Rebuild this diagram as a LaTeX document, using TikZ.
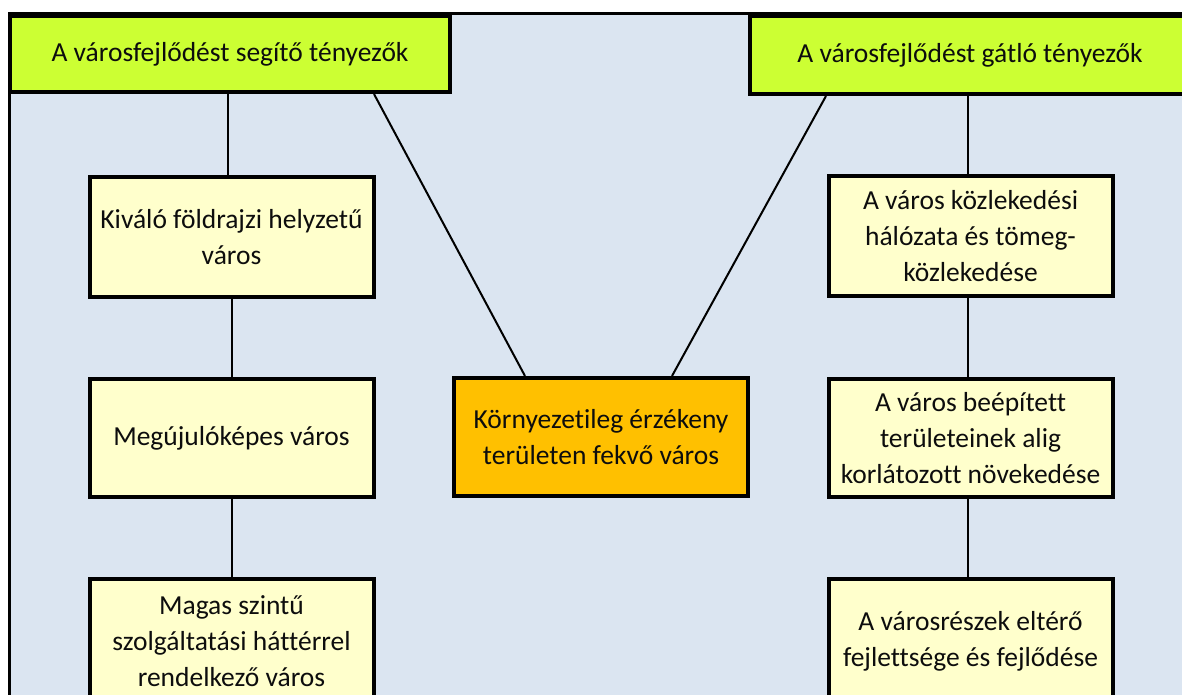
\documentclass[tikz,border=0pt]{standalone}
\usepackage{fontspec}
\setmainfont[Ligatures={TeX,NoCommon}]{Carlito}
\definecolor{bgblue}{HTML}{DBE5F1}
\definecolor{lime}{HTML}{CCFF33}
\definecolor{paleyellow}{HTML}{FFFFCC}
\definecolor{amber}{HTML}{FFC000}
\definecolor{ink}{HTML}{0D0D0D}
\tikzset{
  box/.style={draw=black, line width=4pt, inner sep=0pt, align=center,
    font=\fontsize{27.5}{36}\selectfont, text=ink},
  headbox/.style={box, fill=lime, minimum width=440pt},
  itembox/.style={box, fill=paleyellow, minimum width=284pt},
  keybox/.style={box, fill=amber, minimum width=294pt, minimum height=118pt},
  link/.style={draw=black, line width=2pt}
}
\begin{document}
\begin{tikzpicture}[x=1pt,y=-1pt]
\useasboundingbox (0,0) rectangle (1182,695);
\begin{scope}
\clip (0,0) rectangle (1182,695);
\fill[bgblue] (9,13) rectangle (1200,710);
\draw[line width=2.5pt] (9.5,710) -- (9.5,13.5) -- (1200,13.5);

\node[headbox, minimum height=76pt] (tl) at (230,54) {A városfejlődést segítő tényezők};
\node[headbox, minimum height=78pt] (tr) at (970,55) {A városfejlődést gátló tényezők};

\node[itembox, minimum height=120pt] (l1) at (231.5,237) {Kiváló földrajzi helyzetű\\város};
\node[itembox, minimum height=118pt] (l2) at (231.5,438) {Megújulóképes város};
\node[itembox, minimum height=124pt] (l3) at (231.5,641) {Magas szintű\\szolgáltatási háttérrel\\rendelkező város};

\node[keybox] (c) at (601,437) {Környezetileg érzékeny\\területen fekvő város};

\node[itembox, minimum height=120pt] (r1) at (970.5,236) {A város közlekedési\\hálózata és tömeg-\\közlekedése};
\node[itembox, minimum height=118pt] (r2) at (970.5,438) {A város beépített\\területeinek alig\\korlátozott növekedése};
\node[itembox, minimum height=124pt] (r3) at (970.5,641) {A városrészek eltérő\\fejlettsége és fejlődése};

\draw[link] ([xshift=-2pt]tl.south) -- ([xshift=-3.5pt]l1.north);
\draw[link] (l1.south) -- (l2.north);
\draw[link] (l2.south) -- (l3.north);
\draw[link] ([xshift=-78pt]tl.south east) -- ([xshift=-76pt]c.north);
\draw[link] ([xshift=78pt]tr.south west) -- ([xshift=71pt]c.north);
\draw[link] ([xshift=-2pt]tr.south) -- ([xshift=-2.5pt]r1.north);
\draw[link] ([xshift=-2.5pt]r1.south) -- ([xshift=-2.5pt]r2.north);
\draw[link] ([xshift=-2.5pt]r2.south) -- ([xshift=-2.5pt]r3.north);
\end{scope}
\end{tikzpicture}
\end{document}
